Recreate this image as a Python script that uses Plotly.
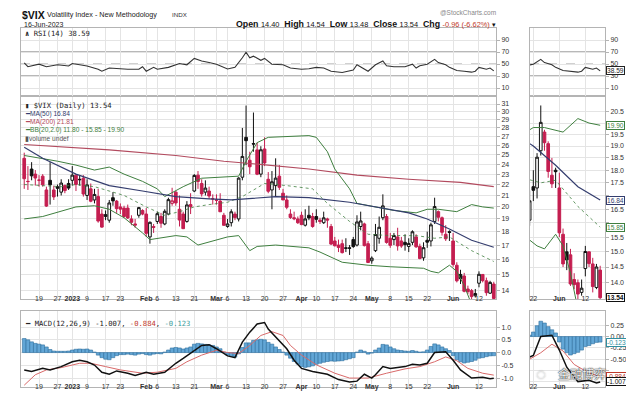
import math
import pandas as pd
import plotly.graph_objects as go

# ---------------- categories (trading days) ----------------
holidays = ['2022-12-26', '2023-01-02', '2023-01-16', '2023-02-20', '2023-04-07', '2023-05-29']
dates = [d.strftime('%Y-%m-%d') for d in pd.bdate_range('2022-12-13', '2023-06-16')
         if d.strftime('%Y-%m-%d') not in holidays]
day = list(range(len(dates)))
pos = {d: i for i, d in enumerate(dates)}

# ---------------- OHLC ----------------
opens = [24.6, 22.3, 23.5, 23.0, 22.4, 22.8, 21.5, 22.4, 21.5, 21.8, 21.3, 21.9, 22.1,
         22.4, 22.9, 22.5, 22.6, 21.0, 21.6, 20.6, 20.9, 19.4, 19.2, 18.9, 20.8, 20.5, 20.0,
         19.9, 19.9, 19.0, 18.6, 19.3, 19.7, 19.4, 17.6, 18.4, 18.8, 19.2, 18.6, 19.4, 20.3,
         21.3, 19.8, 19.4, 18.8, 20.2, 21.4, 22.9, 22.1, 21.3, 21.4, 20.7, 20.6, 20.5, 19.3,
         18.4, 18.7, 19.4, 19.0, 22.7, 26.9, 24.4, 26.2, 25.5, 23.0, 25.6, 22.5, 21.5, 21.9,
         22.8, 21.2, 20.6, 19.4, 19.1, 19.0, 19.3, 18.5, 19.3, 19.2, 19.2, 18.9, 18.7, 19.0,
         18.4, 17.3, 17.0, 17.1, 16.8, 16.8, 17.4, 17.0, 18.4, 18.6, 17.1, 15.9, 16.6, 17.5,
         19.1, 19.2, 17.5, 17.4, 17.6, 17.3, 17.2, 16.9, 17.2, 17.6, 16.9, 16.1, 17.35, 17.3,
         18.8, 19.6, 19.1, 17.8, 18.0, 17.3, 15.6, 15.0, 14.9, 14.1, 14.0, 13.7, 14.45, 15.0,
         14.6, 13.85, 14.40]
highs = [25.2, 23.8, 24.2, 23.4, 22.9, 23.0, 21.8, 24.2, 21.9, 22.0, 22.5, 22.0, 22.5,
         23.8, 23.0, 22.9, 22.9, 22.5, 22.1, 21.6, 21.6, 19.8, 19.7, 20.6, 21.3, 20.6, 20.3,
         20.1, 20.2, 19.3, 19.0, 20.0, 19.8, 19.9, 18.8, 18.6, 19.6, 19.5, 19.8, 20.8, 21.7,
         21.4, 21.0, 19.6, 20.5, 21.2, 23.0, 23.3, 22.5, 22.4, 21.8, 21.1, 21.1, 21.2, 19.5,
         19.0, 19.8, 19.6, 22.7, 28.0, 30.8, 25.3, 29.9, 26.3, 25.9, 26.9, 23.2, 23.3, 24.6,
         23.9, 21.6, 21.0, 19.8, 19.6, 19.2, 19.6, 19.8, 20.1, 19.5, 19.8, 19.1, 19.6, 19.1,
         18.6, 17.6, 17.4, 17.4, 17.5, 17.0, 17.6, 19.3, 19.6, 18.7, 17.3, 16.2, 18.6, 19.2,
         21.1, 19.4, 17.9, 17.9, 18.3, 17.6, 17.8, 17.5, 18.1, 17.8, 17.1, 17.2, 18.0, 18.7,
         20.8, 19.7, 19.2, 18.5, 18.1, 17.9, 15.8, 15.3, 15.1, 14.3, 14.1, 14.1, 15.2, 15.0,
         14.8, 14.6, 14.54]
lows = [21.6, 21.5, 22.4, 21.9, 21.8, 21.8, 20.0, 20.2, 20.6, 20.9, 21.0, 21.2, 21.5,
        21.9, 21.4, 21.9, 20.9, 20.6, 20.4, 20.3, 18.7, 18.3, 18.9, 18.7, 20.1, 19.5, 19.4,
        19.1, 19.0, 18.5, 18.3, 19.1, 19.3, 17.6, 17.1, 17.9, 18.6, 18.3, 18.5, 19.3, 20.1,
        20.1, 18.4, 18.2, 18.7, 19.4, 21.3, 21.6, 20.9, 21.0, 20.7, 20.2, 20.2, 19.6, 18.5,
        18.3, 18.4, 18.9, 18.8, 22.4, 23.9, 23.0, 25.3, 22.9, 22.7, 23.8, 21.2, 19.8, 20.9,
        21.5, 20.6, 19.8, 19.0, 18.9, 18.6, 18.5, 18.4, 18.9, 18.3, 18.7, 18.6, 18.6, 18.3,
        17.0, 16.9, 16.5, 16.4, 16.5, 16.3, 16.8, 16.9, 18.1, 16.9, 15.8, 15.7, 16.5, 17.1,
        18.9, 17.1, 16.8, 17.0, 16.6, 16.8, 16.6, 16.5, 17.0, 16.8, 16.0, 15.9, 16.8, 16.9,
        18.6, 18.8, 17.7, 17.3, 17.3, 15.5, 14.5, 14.4, 13.9, 13.8, 13.5, 13.6, 14.2, 14.5,
        13.7, 13.8, 13.48]
closes = [22.55, 22.28, 22.83, 22.62, 22.42, 21.97, 20.07, 21.97, 20.87, 21.65, 22.14, 21.44,
          21.67, 22.90, 22.01, 22.46, 21.13, 21.97, 20.49, 21.09, 18.83, 18.35, 19.36, 20.34,
          20.52, 19.85, 19.81, 19.20, 19.08, 18.73, 18.51, 19.94, 19.40, 17.87, 18.73, 18.33,
          19.43, 18.66, 19.63, 20.63, 20.53, 20.34, 18.91, 18.23, 20.17, 20.02, 22.87, 22.29,
          21.14, 21.67, 20.95, 20.70, 20.58, 19.59, 18.49, 18.60, 19.59, 19.11, 22.61, 24.80,
          26.52, 23.73, 26.14, 22.99, 25.51, 24.12, 21.38, 22.26, 22.61, 21.74, 20.60, 19.97,
          19.12, 19.02, 18.70, 18.55, 19.00, 19.08, 18.40, 18.97, 18.80, 19.09, 18.91, 17.07,
          16.95, 16.83, 16.46, 16.77, 16.77, 16.89, 18.76, 18.84, 16.96, 15.78, 16.08, 17.78,
          18.34, 20.09, 17.19, 16.98, 17.71, 16.94, 16.93, 17.03, 17.12, 17.99, 16.87, 16.05,
          16.81, 17.21, 18.53, 20.03, 19.14, 17.95, 17.46, 17.94, 15.65, 14.60, 14.73, 13.96,
          13.94, 13.65, 13.83, 15.01, 14.61, 13.88, 14.50, 13.54]

# ---------------- overlays (read at sample days) ----------------
ma50_day = [0, 5, 14, 23, 32, 41, 50, 56, 68, 77, 88, 97, 104, 109, 115, 121, 127]
ma50_val = [25.8, 24.6, 23.0, 21.9, 21.4, 20.9, 20.7, 20.6, 20.9, 20.8, 20.4, 19.9, 19.5, 19.0, 18.2, 17.35, 16.84]
ma200_day = [0, 23, 41, 54, 63, 77, 90, 104, 118, 127]
ma200_val = [26.1, 25.5, 24.9, 24.3, 24.0, 23.5, 22.9, 22.5, 22.2, 21.81]
bbu_day = [0, 5, 9, 14, 19, 23, 27, 32, 36, 38, 43, 48, 53, 58, 60, 63, 66, 77, 79, 82, 84, 88, 90, 95, 100, 106, 109, 112, 117, 121, 124, 127]
bbu_val = [24.9, 24.6, 24.3, 23.9, 23.4, 23.7, 23.0, 22.3, 21.6, 20.9, 21.8, 22.6, 22.7, 22.8, 24.3, 26.3, 26.9, 27.1, 26.9, 25.3, 23.5, 21.6, 20.3, 20.0, 19.7, 19.5, 19.8, 19.8, 19.6, 20.2, 20.0, 19.90]
bbm_day = [0, 5, 10, 14, 19, 21, 27, 33, 38, 42, 46, 50, 55, 59, 65, 71, 78, 82, 88, 93, 99, 106, 111, 115, 121, 127]
bbm_val = [22.0, 21.9, 21.8, 22.0, 21.8, 21.6, 21.0, 20.0, 19.3, 19.6, 20.0, 20.2, 20.4, 20.9, 22.1, 21.9, 21.6, 20.3, 18.8, 17.8, 17.7, 17.7, 17.5, 17.6, 16.6, 15.85]
bbl_day = [0, 5, 14, 19, 23, 27, 32, 34, 41, 44, 47, 52, 55, 58, 61, 63, 68, 77, 80, 86, 93, 99, 108, 110, 112, 115, 117, 119, 121, 123, 125, 127]
bbl_val = [19.0, 19.2, 20.0, 20.1, 19.8, 19.1, 17.9, 17.4, 17.7, 17.6, 17.0, 17.4, 17.6, 17.7, 16.6, 16.9, 17.0, 16.8, 16.5, 15.8, 15.6, 15.5, 15.4, 15.2, 15.1, 15.6, 15.2, 14.3, 13.2, 12.5, 12.1, 11.80]

rsi_day = [0, 1, 4, 6, 9, 12, 13, 15, 17, 20, 21, 23, 25, 28, 31, 32, 33, 35, 36, 39, 42, 44, 46, 48, 50, 52, 55, 57, 59, 60, 61, 62, 64, 65, 67, 70, 72, 75, 77, 79, 81, 83, 86, 88, 89, 90, 92, 93, 95, 97, 98, 100, 103, 105, 106, 107, 109, 111, 112, 114, 115, 117, 119, 121, 122, 123, 125, 126, 127]
rsi_val = [52, 45.5, 49.7, 45.5, 48.7, 46.6, 50.9, 48.7, 46.6, 41.2, 38, 43.3, 42.2, 41.2, 41.2, 45.5, 38, 44.4, 41.2, 44.4, 50.9, 48.7, 59.3, 55.1, 52.4, 49.7, 41.7, 44.4, 60.4, 69.5, 60.4, 63.1, 56.1, 59.3, 49.7, 48.7, 43.3, 41.2, 42.2, 44.4, 43.3, 38, 35.9, 38, 40.1, 48.7, 41.7, 38, 48.7, 55.1, 47, 45.5, 45.5, 49.7, 43.3, 47, 49.7, 57.7, 52.4, 48.7, 44.4, 39.2, 38, 36.4, 38, 44.4, 41.2, 43.3, 38.59]

macd_day = [0, 2, 5, 7, 10, 13, 15, 17, 19, 21, 23, 25, 28, 30, 33, 35, 38, 41, 43, 46, 48, 50, 52, 55, 57, 59, 61, 63, 65, 66, 68, 71, 73, 75, 78, 80, 82, 85, 88, 90, 92, 94, 95, 97, 99, 103, 105, 107, 109, 111, 114, 116, 118, 121, 124, 126, 127]
macd_val = [-0.68, -0.74, -0.62, -0.68, -0.55, -0.36, -0.30, -0.36, -0.49, -0.77, -0.85, -0.72, -0.81, -0.90, -0.77, -0.85, -0.77, -0.42, -0.23, 0.09, 0.28, 0.31, 0.15, -0.13, -0.20, 0.41, 0.80, 1.12, 1.18, 0.92, 0.60, 0.15, -0.30, -0.62, -0.74, -0.81, -0.85, -1.06, -1.15, -1.12, -0.85, -1.0, -0.87, -0.55, -0.62, -0.55, -0.46, -0.49, -0.42, 0.0, 0.03, -0.30, -0.68, -1.0, -0.97, -1.03, -1.007]
sig_day = [0, 3, 6, 10, 15, 18, 22, 26, 32, 36, 41, 44, 48, 52, 55, 58, 61, 64, 67, 70, 72, 75, 79, 84, 88, 93, 98, 103, 107, 111, 114, 117, 120, 124, 127]
sig_val = [-1.28, -0.87, -0.68, -0.59, -0.42, -0.42, -0.55, -0.68, -0.81, -0.77, -0.62, -0.36, -0.10, 0.09, 0.0, -0.04, 0.28, 0.67, 0.82, 0.67, 0.28, -0.10, -0.48, -0.81, -1.0, -1.0, -0.81, -0.64, -0.55, -0.36, -0.17, -0.32, -0.62, -0.81, -0.884]
hist_val = [0.55, 0.50, 0.42, 0.36, 0.33, 0.30, 0.22, 0.12, 0.06, 0.05, 0.05, 0.05, 0.06, 0.10,
            0.13, 0.14, 0.13, 0.14, 0.10, 0.02, -0.10, -0.20, -0.26, -0.28, -0.20, -0.12, -0.08,
            -0.08, -0.06, -0.08, -0.10, -0.06, -0.04, -0.08, -0.10, -0.06, -0.04, -0.05, 0.02,
            0.10, 0.18, 0.20, 0.18, 0.14, 0.18, 0.22, 0.33, 0.36, 0.34, 0.32, 0.30, 0.28, 0.22,
            0.15, 0.02, -0.10, -0.15, -0.18, -0.05, 0.20, 0.38, 0.38, 0.48, 0.50, 0.52, 0.50,
            0.40, 0.33, 0.22, 0.12, 0.02, -0.10, -0.22, -0.35, -0.45, -0.55, -0.58, -0.56, -0.52,
            -0.46, -0.42, -0.38, -0.35, -0.33, -0.34, -0.33, -0.32, -0.28, -0.24, -0.20, 0.02,
            0.10, 0.05, -0.06, -0.02, 0.10, 0.18, 0.32, 0.30, 0.22, 0.15, 0.10, 0.08, 0.06, 0.05,
            0.08, 0.05, 0.02, 0.03, 0.10, 0.24, 0.34, 0.30, 0.22, 0.15, 0.08, -0.12, -0.28, -0.36,
            -0.41, -0.38, -0.35, -0.30, -0.22, -0.20, -0.16, -0.13, -0.123]

tick_dates = ['2022-12-19', '2022-12-27', '2023-01-03', '2023-01-09', '2023-01-17', '2023-01-23',
              '2023-02-01', '2023-02-06', '2023-02-13', '2023-02-21', '2023-03-01', '2023-03-06',
              '2023-03-13', '2023-03-20', '2023-03-27', '2023-04-03', '2023-04-10', '2023-04-17',
              '2023-04-24', '2023-05-01', '2023-05-08', '2023-05-15', '2023-05-22', '2023-06-01',
              '2023-06-12']
tick_text = ['19', '27', '<b>2023</b>', '9', '17', '23', '<b>Feb</b>', '6', '13', '21', '<b>Mar</b>',
             '6', '13', '20', '27', '<b>Apr</b>', '10', '17', '24', '<b>May</b>', '8', '15', '22',
             '<b>Jun</b>', '12']
zoom_tick_dates = ['2023-05-22', '2023-06-01', '2023-06-12']
zoom_x_text = ['22', '<b>Jun</b>', '12']
main_ticks = list(range(14, 32))
zoom_ticks = [13.5, 14.0, 14.5, 15.0, 15.5, 16.0, 16.5, 17.0, 17.5, 18.0, 18.5, 19.0, 19.5, 20.0, 20.5]
zoom_tick_text = ['', '14.0', '14.5', '15.0', '15.5', '', '16.5', '', '17.5', '18.0', '18.5',
                  '19.0', '19.5', '', '20.5']
rsi_ticks = [10, 30, 50, 70, 90]
macd_ticks = [1.0, 0.5, 0.0, -0.5, -1.0]
macd_tick_text = ['1.0', '0.5', '0.0', '-0.5', '-1.0']
zmacd_ticks = [0.25, 0.0, -0.25, -0.5, -0.75, -1.0]
zmacd_tick_text = ['0.25', '0.00', '-0.25', '-0.50', '', '']

# ---------------- styling ----------------
W, H = 634, 394
SANS = 'Liberation Sans, Arial, sans-serif'
MONO = 'DejaVu Sans Mono, Liberation Mono, monospace'
RED = '#c41e50'
NAVY = '#343d6e'
MAROON = '#b24a5e'
GREEN = '#3f7f3f'
GRID = '#e4e4e4'
BORDER = '#b4b4b4'
TICKC = '#333333'

def fx(p):
    return p / W

def fy(p):
    return 1 - p / H

L0, L1, R0, R1 = 13, 488, 522, 597
RSI_T, RSI_B, MAIN_T, MAIN_B, MACD_T, MACD_B = 20, 88, 88, 291, 303, 379

fig = go.Figure()

red_idx = [i for i in day if i == 0 or closes[i] < closes[i - 1]]
blk_idx = [i for i in day if not (i == 0 or closes[i] < closes[i - 1])]

def candles(idx, color, xa, ya):
    return go.Candlestick(
        x=idx, open=[opens[i] for i in idx], high=[highs[i] for i in idx],
        low=[lows[i] for i in idx], close=[closes[i] for i in idx],
        increasing=dict(line=dict(color=color, width=1), fillcolor='white'),
        decreasing=dict(line=dict(color=color, width=1), fillcolor=color),
        whiskerwidth=0, xaxis=xa, yaxis=ya, showlegend=False, hoverinfo='skip')

def line(xs, ys, color, xa, ya, width=1.0, dash='solid'):
    return go.Scatter(x=xs, y=ys, mode='lines', line=dict(color=color, width=width, dash=dash),
                      xaxis=xa, yaxis=ya, showlegend=False, hoverinfo='skip')

for xa, ya in [('x', 'y'), ('x4', 'y4')]:
    fig.add_trace(line(ma200_day, ma200_val, MAROON, xa, ya, 1.1))
    fig.add_trace(line(bbu_day, bbu_val, GREEN, xa, ya, 1.0))
    fig.add_trace(line(bbl_day, bbl_val, GREEN, xa, ya, 1.0))
    fig.add_trace(line(bbm_day, bbm_val, GREEN, xa, ya, 0.8, 'dot'))
    fig.add_trace(line(ma50_day, ma50_val, NAVY, xa, ya, 1.2))
    fig.add_trace(candles(red_idx, RED, xa, ya))
    fig.add_trace(candles(blk_idx, '#111111', xa, ya))

for xa, ya in [('x2', 'y2'), ('x5', 'y5')]:
    fig.add_trace(line(rsi_day, rsi_val, '#333333', xa, ya, 1.1))

for xa, ya in [('x3', 'y3'), ('x6', 'y6')]:
    fig.add_trace(go.Bar(x=day, y=hist_val, marker=dict(color='#62a6d6', line=dict(color='#2d6f9e', width=0.6)),
                         xaxis=xa, yaxis=ya, showlegend=False, hoverinfo='skip'))
    fig.add_trace(line(sig_day, sig_val, '#d96a6a', xa, ya, 1.0))
    fig.add_trace(line(macd_day, macd_val, '#111111', xa, ya, 1.5))

tickfont = dict(size=7, color=TICKC, family=SANS)

def xax(domain, rng, tv, tt, show, anchor):
    return dict(domain=domain, range=rng, tickvals=tv, ticktext=tt, showticklabels=show,
                tickfont=tickfont, showgrid=True, gridcolor=GRID, gridwidth=1, zeroline=False,
                showline=True, mirror=True, linecolor=BORDER, linewidth=1, ticks='', ticklen=0,
                ticklabelstandoff=-7,
                anchor=anchor, rangeslider=dict(visible=False), fixedrange=True)

def yax(domain, rng, tv, tt, anchor, typ='linear'):
    return dict(domain=domain, range=rng, tickvals=tv, ticktext=tt, side='right', type=typ,
                tickfont=tickfont, showgrid=True, gridcolor=GRID, gridwidth=1, zeroline=False,
                showline=True, mirror=True, linecolor=BORDER, linewidth=1, ticks='outside',
                ticklen=3, tickcolor=BORDER, anchor=anchor, fixedrange=True)

xl = [fx(L0), fx(L1)]
xr = [fx(R0), fx(R1)]
d_rsi = [fy(RSI_B), fy(RSI_T)]
d_main = [fy(MAIN_B), fy(MAIN_T)]
d_macd = [fy(MACD_B), fy(MACD_T)]
rng_l = [-0.87, 127.6]
rng_r = [108.1, 128.3]
tv = [pos[d] for d in tick_dates]
ztv = [pos[d] for d in zoom_tick_dates]

layout = dict(
    width=W, height=H, margin=dict(l=0, r=0, t=0, b=0), paper_bgcolor='white', plot_bgcolor='white',
    showlegend=False, boxgap=0.28, boxgroupgap=0, bargap=0, barmode='overlay',
    xaxis=xax(xl, rng_l, tv, tick_text, True, 'y'),
    xaxis2=xax(xl, rng_l, tv, tick_text, False, 'y2'),
    xaxis3=xax(xl, rng_l, tv, tick_text, True, 'y3'),
    xaxis4=xax(xr, rng_r, ztv, zoom_x_text, True, 'y4'),
    xaxis5=xax(xr, rng_r, ztv, zoom_x_text, False, 'y5'),
    xaxis6=xax(xr, rng_r, ztv, zoom_x_text, True, 'y6'),
    yaxis=yax(d_main, [math.log10(13.51), math.log10(32.08)], main_ticks, [str(t) for t in main_ticks], 'x', 'log'),
    yaxis2=yax(d_rsi, [-3.3, 110], rsi_ticks, [str(t) for t in rsi_ticks], 'x2'),
    yaxis3=yax(d_macd, [-1.35, 1.63], macd_ticks, macd_tick_text, 'x3'),
    yaxis4=yax(d_main, [math.log10(13.50), math.log10(21.245)], zoom_ticks, zoom_tick_text, 'x4', 'log'),
    yaxis5=yax(d_rsi, [-3.3, 110], rsi_ticks, [str(t) for t in rsi_ticks], 'x5'),
    yaxis6=yax(d_macd, [-1.12, 0.567], zmacd_ticks, zmacd_tick_text, 'x6'),
)
fig.update_layout(**layout)

shapes = []
for xa, ya in [('x2', 'y2'), ('x5', 'y5')]:
    for lvl, dash, col in [(70, 'solid', '#707070'), (30, 'solid', '#707070'), (50, 'dash', '#a0a0a0')]:
        shapes.append(dict(type='line', xref=f'{xa} domain', yref=ya, x0=0, x1=1, y0=lvl, y1=lvl,
                           line=dict(color=col, width=1, dash=dash), layer='below'))
shapes.append(dict(type='rect', xref='paper', yref='paper', x0=fx(628), x1=1, y0=0, y1=fy(268),
                   fillcolor='#e8e8e8', line=dict(width=0)))
fig.update_layout(shapes=shapes)

ann = []

def txt(x, y, text, size=7, color='#222', family=SANS, xanchor='left'):
    ann.append(dict(x=fx(x), y=fy(y), xref='paper', yref='paper', text=text, showarrow=False,
                    font=dict(size=size, color=color, family=family), xanchor=xanchor, yanchor='middle'))

def flag(yref, yval, text, color, bold=False):
    t = f'<b>{text}</b>' if bold else text
    ann.append(dict(x=fx(598), xref='paper', y=yval, yref=yref, text=t, showarrow=False,
                    xanchor='left', yanchor='middle', bgcolor='white', bordercolor=color,
                    borderwidth=1, borderpad=0, font=dict(size=6.6, color=color, family=SANS)))

V = '<span style="font-size:7.4px;font-weight:normal">'
# header
txt(12, 7, '<b>$VIX</b>', 10.5, '#111')
txt(37, 7, 'Volatility Index - New Methodology', 7.2, '#222')
txt(162, 7, 'INDX', 6.2, '#333')
txt(14, 16, '16-Jun-2023', 7, '#222')
txt(490, 5, '@StockCharts.com', 6.5, '#888', xanchor='right')
txt(490, 16, f'<b>Open</b> {V}14.40</span>  <b>High</b> {V}14.54</span>  <b>Low</b> {V}13.48</span>  '
             f'<b>Close</b> {V}13.54</span>  <b>Chg</b> '
             f'<span style="font-size:7.4px;color:#c0392b">-0.96 (-6.62%)</span> {V}▾</span>',
    8.8, '#111', xanchor='right')

# panel legends
txt(15, 25, '<b>∧</b> RSI(14) 38.59', 7.2, '#222', MONO)
txt(15, 98, '▮ $VIX (Daily) 13.54', 7.2, '#222', MONO)
txt(15, 106, f'<span style="color:{NAVY}">━</span>MA(50) 16.84', 6.6, NAVY)
txt(15, 114, f'<span style="color:{MAROON}">━</span>MA(200) 21.81', 6.6, MAROON)
txt(15, 122, f'<span style="color:{GREEN}">━</span>BB(20,2.0) 11.80 - 15.85 - 19.90', 6.6, GREEN)
txt(15, 130, '▮volume undef', 6.6, '#555')
txt(15, 315, '━ MACD(12,26,9) -1.007, <span style="color:#c0392b">-0.884</span>, '
             '<span style="color:#3a9a9a">-0.123</span>', 7.2, '#222', MONO)

# value flags on the zoom panels
flag('y5', 38.59, '38.59', '#222')
flag('y4', math.log10(19.90), '19.90', GREEN)
flag('y4', math.log10(16.84), '16.84', NAVY)
flag('y4', math.log10(15.85), '15.85', GREEN)
flag('y4', math.log10(13.54), '13.54', '#111', True)
flag('y6', -0.123, '-0.123', '#2f8fa0')
flag('y6', -0.884, '-0.884', '#c0392b')
flag('y6', -1.007, '-1.007', '#111')

# watermark
ann.append(dict(x=fx(533), y=fy(366), xref='paper', yref='paper', text='◌', showarrow=False,
                font=dict(size=17, color='rgba(255,255,255,0.9)', family=SANS,
                          shadow='0px 0px 1.5px #222'),
                xanchor='center', yanchor='middle'))
ann.append(dict(x=fx(574), y=fy(365), xref='paper', yref='paper', text='金融博弈', showarrow=False,
                font=dict(size=12, color='rgba(255,255,255,0.95)', family='Noto Sans CJK SC',
                          shadow='0px 0px 1.5px #111, 0px 0px 1px #111'),
                xanchor='center', yanchor='middle'))
fig.update_layout(annotations=ann)

fig.write_html('out.html', config=dict(displayModeBar=False, staticPlot=True))
